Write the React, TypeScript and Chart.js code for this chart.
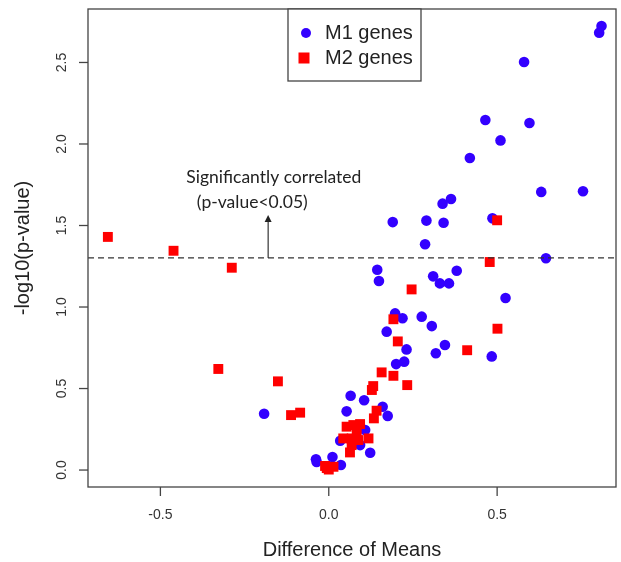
import React, { useEffect, useRef } from "react";
import { Chart, registerables } from "chart.js";

Chart.register(...registerables);

const seriesLabels = ["M1 genes", "M2 genes"];

const m1X = [0.810, 0.803, 0.580, 0.465, 0.596, 0.510, 0.419, 0.631, 0.755, 0.363, 0.338, 0.190, 0.290, 0.341, 0.486, 0.286, 0.645, 0.144, 0.380, 0.310, 0.149, 0.330, 0.357, 0.525, 0.197, 0.219, 0.276, 0.306, 0.172, 0.231, 0.345, 0.318, 0.484, 0.224, 0.200, 0.065, 0.105, 0.053, 0.160, 0.175, 0.108, 0.034, 0.093, 0.123, -0.038, -0.036, 0.011, 0.036, -0.192];
const m1Y = [2.724, 2.683, 2.503, 2.147, 2.129, 2.022, 1.914, 1.706, 1.710, 1.663, 1.634, 1.521, 1.530, 1.517, 1.544, 1.385, 1.299, 1.229, 1.222, 1.188, 1.160, 1.145, 1.145, 1.055, 0.961, 0.931, 0.941, 0.883, 0.849, 0.740, 0.767, 0.716, 0.697, 0.665, 0.650, 0.456, 0.428, 0.360, 0.388, 0.332, 0.245, 0.180, 0.153, 0.106, 0.066, 0.050, 0.080, 0.031, 0.345];

const m2X = [-0.656, -0.461, -0.288, -0.328, -0.151, -0.112, -0.085, 0.500, 0.478, 0.246, 0.192, 0.501, 0.205, 0.411, 0.157, 0.192, 0.233, 0.132, 0.128, 0.142, 0.134, 0.053, 0.073, 0.093, 0.043, 0.068, 0.088, 0.118, 0.063, 0.083, 0.068, -0.011, 0.014, 0.000, -0.006];
const m2Y = [1.430, 1.345, 1.241, 0.620, 0.544, 0.337, 0.352, 1.532, 1.276, 1.108, 0.925, 0.867, 0.789, 0.735, 0.599, 0.578, 0.521, 0.515, 0.491, 0.364, 0.317, 0.266, 0.276, 0.282, 0.194, 0.194, 0.184, 0.194, 0.108, 0.225, 0.153, 0.025, 0.020, 0.003, 0.012];

const xTicks = [-0.5, 0, 0.5];
const xTickLabels = ["-0.5", "0.0", "0.5"];
const yTicks = [0, 0.5, 1, 1.5, 2, 2.5];
const yTickLabels = ["0.0", "0.5", "1.0", "1.5", "2.0", "2.5"];

const xTitle = "Difference of Means";
const yTitle = "-log10(p-value)";
const threshold = 1.301; // -log10(0.05)
const noteLines = ["Significantly correlated", "(p-value<0.05)"];
const noteX = [-0.163, -0.227];
const noteY = [1.797, 1.644];
const arrowX = -0.18;
const arrowTipY = 1.565;

const BLUE = "#3300FF";
const RED = "#FF0000";
const AXIS = "#444444";

const overlay = {
  id: "overlay",
  afterDatasetsDraw(chart: any) {
    const ctx = chart.ctx;
    const xs = chart.scales.x;
    const ys = chart.scales.y;
    const a = chart.chartArea;
    ctx.save();
    // threshold line
    const ty = ys.getPixelForValue(threshold);
    ctx.strokeStyle = "#333";
    ctx.lineWidth = 1.3;
    ctx.setLineDash([6, 4]);
    ctx.beginPath();
    ctx.moveTo(a.left, ty);
    ctx.lineTo(a.right, ty);
    ctx.stroke();
    ctx.setLineDash([]);
    // arrow
    const ax = xs.getPixelForValue(arrowX);
    const tip = ys.getPixelForValue(arrowTipY);
    ctx.lineWidth = 1.2;
    ctx.beginPath();
    ctx.moveTo(ax, ty);
    ctx.lineTo(ax, tip + 5);
    ctx.stroke();
    ctx.fillStyle = "#222";
    ctx.beginPath();
    ctx.moveTo(ax, tip);
    ctx.lineTo(ax - 3.5, tip + 7);
    ctx.lineTo(ax + 3.5, tip + 7);
    ctx.closePath();
    ctx.fill();
    // note
    ctx.fillStyle = "#222";
    ctx.font = "17.5px Lato";
    ctx.textAlign = "center";
    ctx.textBaseline = "middle";
    noteLines.forEach((t, i) => {
      ctx.fillText(t, xs.getPixelForValue(noteX[i]), ys.getPixelForValue(noteY[i]));
    });
    ctx.restore();
  },
  afterDraw(chart: any) {
    const ctx = chart.ctx;
    const xs = chart.scales.x;
    const ys = chart.scales.y;
    const a = chart.chartArea;
    ctx.save();
    ctx.strokeStyle = AXIS;
    ctx.lineWidth = 1.3;
    ctx.strokeRect(a.left, a.top, a.right - a.left, a.bottom - a.top);
    // x ticks
    ctx.fillStyle = "#333";
    ctx.font = "14px 'Liberation Sans', Arial, sans-serif";
    ctx.textAlign = "center";
    ctx.textBaseline = "middle";
    xTicks.forEach((v, i) => {
      const px = xs.getPixelForValue(v);
      ctx.beginPath();
      ctx.moveTo(px, a.bottom);
      ctx.lineTo(px, a.bottom + 9);
      ctx.stroke();
      ctx.fillText(xTickLabels[i], px, a.bottom + 28);
    });
    // y ticks
    yTicks.forEach((v, i) => {
      const py = ys.getPixelForValue(v);
      ctx.beginPath();
      ctx.moveTo(a.left, py);
      ctx.lineTo(a.left - 9, py);
      ctx.stroke();
      ctx.save();
      ctx.translate(a.left - 26, py);
      ctx.rotate(-Math.PI / 2);
      ctx.fillText(yTickLabels[i], 0, 0);
      ctx.restore();
    });
    // titles
    ctx.fillStyle = "#222";
    ctx.font = "20px 'Liberation Sans', Arial, sans-serif";
    ctx.fillText(xTitle, (a.left + a.right) / 2, a.bottom + 63);
    ctx.save();
    ctx.translate(a.left - 65, (a.top + a.bottom) / 2);
    ctx.rotate(-Math.PI / 2);
    ctx.fillText(yTitle, 0, 0);
    ctx.restore();
    // legend
    const lx = 288, ly = a.top, lw = 133, lh = 72;
    ctx.fillStyle = "#fff";
    ctx.fillRect(lx, ly, lw, lh);
    ctx.strokeStyle = AXIS;
    ctx.lineWidth = 1.3;
    ctx.strokeRect(lx, ly, lw, lh);
    ctx.fillStyle = BLUE;
    ctx.beginPath();
    ctx.arc(lx + 18, ly + 24, 5, 0, Math.PI * 2);
    ctx.fill();
    ctx.fillStyle = RED;
    ctx.fillRect(lx + 16 - 5.5, ly + 49 - 5.5, 11, 11);
    ctx.fillStyle = "#222";
    ctx.font = "20px 'Liberation Sans', Arial, sans-serif";
    ctx.textAlign = "left";
    ctx.fillText(seriesLabels[0], lx + 37, ly + 24);
    ctx.fillText(seriesLabels[1], lx + 37, ly + 49);
    ctx.restore();
  },
};

export default function App() {
  const ref = useRef<HTMLCanvasElement | null>(null);
  useEffect(() => {
    document.body.style.margin = "0";
    const canvas = ref.current!;
    const chart = new Chart(canvas, {
      type: "scatter",
      data: {
        datasets: [
          {
            label: seriesLabels[0],
            data: m1X.map((x, i) => ({ x, y: m1Y[i] })),
            backgroundColor: BLUE,
            borderColor: BLUE,
            borderWidth: 0,
            pointRadius: 5.3,
            pointStyle: "circle",
            order: 2,
          },
          {
            label: seriesLabels[1],
            data: m2X.map((x, i) => ({ x, y: m2Y[i] })),
            backgroundColor: RED,
            borderColor: RED,
            borderWidth: 0,
            pointRadius: 7,
            pointStyle: "rect",
            order: 1,
          },
        ],
      },
      options: {
        responsive: false,
        animation: false,
        devicePixelRatio: 1,
        layout: { autoPadding: false, padding: { left: 88, top: 9, right: 5, bottom: 75 } },
        scales: {
          x: { type: "linear", min: -0.715, max: 0.853, display: false },
          y: { type: "linear", min: -0.104, max: 2.828, display: false },
        },
        plugins: { legend: { display: false }, tooltip: { enabled: false } },
      },
      plugins: [overlay],
    } as any);
    return () => chart.destroy();
  }, []);
  return <canvas ref={ref} width={621} height={562} style={{ display: "block" }} />;
}
